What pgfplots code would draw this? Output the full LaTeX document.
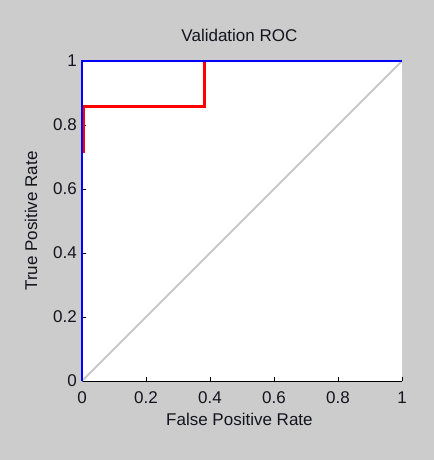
\documentclass[border=0pt]{standalone}
\usepackage{pgfplots}
\pgfplotsset{compat=1.18}
\usepackage{fontspec}
\setmainfont{Liberation Sans}
\definecolor{figbg}{RGB}{204,204,204}
\definecolor{diag}{RGB}{200,200,200}
\definecolor{txt}{RGB}{20,20,30}
\newcommand\fs{\fontsize{17bp}{20bp}\selectfont}
\begin{document}
\begin{tikzpicture}
\fill[figbg] (0,0) rectangle (434bp,460bp);
\begin{axis}[
  at={(82bp,79bp)}, anchor=south west,
  scale only axis, width=320bp, height=320bp,
  xmin=0, xmax=1, ymin=0, ymax=1,
  axis x line*=bottom, axis y line*=left,
  axis line style={black, line width=0.9bp, -},
  axis background/.style={fill=white},
  xtick={0,0.2,0.4,0.6,0.8,1}, ytick={0,0.2,0.4,0.6,0.8,1},
  tick align=inside, major tick length=4bp,
  tick style={black, line width=0.9bp},
  /pgf/number format/assume math mode=true,
  tick label style={font=\fs, text=txt},
  xticklabel style={anchor=base, inner sep=0pt, yshift=-22bp},
  yticklabel style={anchor=east, inner sep=0pt, xshift=-5bp},
  title={Validation ROC},
  title style={font=\fs, text=txt, at={(axis description cs:0.492,1.04375)}, anchor=base, inner sep=0pt},
  xlabel={False Positive Rate},
  xlabel style={font=\fs, text=txt, at={(axis description cs:0.492,-0.1406)}, anchor=base, inner sep=0pt},
  ylabel={True Positive Rate},
  ylabel style={font=\fs, text=txt, at={(axis description cs:-0.1406,0.5)}, anchor=base, inner sep=0pt},
  clip=false,
]
\addplot[diag, line width=2bp] coordinates {(0,0) (1,1)};
\addplot[red, line width=2.7bp] coordinates {(0.006,0.714) (0.006,0.857) (0.383,0.857) (0.383,1)};
\addplot[blue, line width=1.6bp] coordinates {(0,0) (0,1) (1,1)};
\end{axis}
\pgfresetboundingbox
\path (0,0) rectangle (434bp,460bp);
\end{tikzpicture}
\end{document}
